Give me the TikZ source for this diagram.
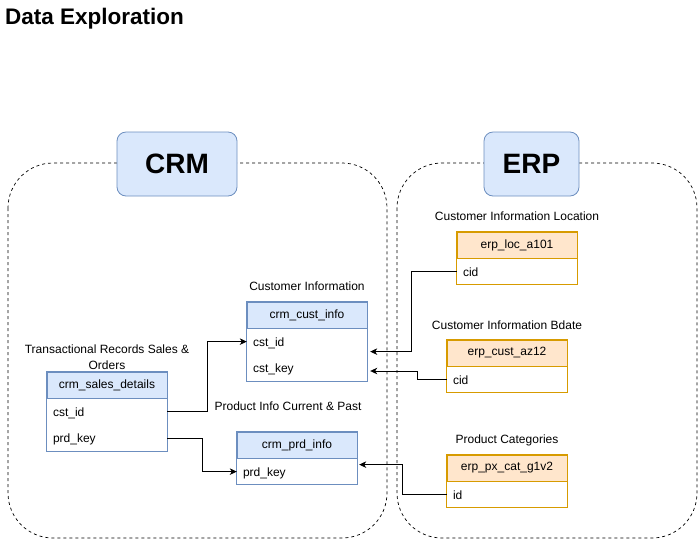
\documentclass[tikz,border=0pt]{standalone}
\usepackage{fontspec}
\setmainfont{Liberation Sans}
\usetikzlibrary{positioning,arrows.meta}
\definecolor{crmfill}{HTML}{DAE8FC}
\definecolor{crmline}{HTML}{6C8EBF}
\definecolor{erpfill}{HTML}{FFE6CC}
\definecolor{erpline}{HTML}{D79B00}

\begin{document}
\begin{tikzpicture}[x=1pt, y=-1pt, >={Stealth[length=7pt,width=6.5pt,inset=2pt]},
  group/.style={draw, line width=0.7pt, dash pattern=on 3pt off 3pt, rounded corners=45pt},
  sysbox/.style={draw=crmline, fill=crmfill, line width=0.8pt, rounded corners=9pt, minimum width=120pt, minimum height=64pt, font=\fontsize{28}{32}\selectfont\bfseries},
  crmhead/.style={draw=crmline, fill=crmfill, line width=0.8pt, minimum width=120pt, minimum height=26pt, inner sep=0pt, font=\fontsize{12}{14}\selectfont},
  erphead/.style={crmhead, draw=erpline, fill=erpfill},
  field/.style={minimum height=26pt, text width=108pt, inner xsep=6pt, inner ysep=0pt, text height=10.5pt, text depth=1.5pt, align=left, font=\fontsize{12}{14}\selectfont},
  caption/.style={inner sep=0pt, text height=9pt, text depth=2.5pt, font=\fontsize{12}{15}\selectfont},
  link/.style={->, line width=0.9pt, black}]
    \useasboundingbox (0,0) rectangle (698,542);
    \node[anchor=base west, inner sep=0pt, font=\fontsize{22.5}{26}\selectfont\bfseries] (title) at (5,24) {Data Exploration};

    % source systems
    \draw[group] (8,163) rectangle (387,538);
    \draw[group] (397,163) rectangle (697,538);
    \node[sysbox] (crm) at (177,164) {CRM};
    \node[sysbox, minimum width=95pt] (erp) at (531.5,164) {ERP};

    % crm tables
    \node[crmhead] (salesHead) at (107,385) {crm\_sales\_details};
    \node[field, below=0pt of salesHead] (salesCst) {cst\_id};
    \node[field, below=0pt of salesCst] (salesPrd) {prd\_key};
    \node[inner sep=0pt, align=center, font=\fontsize{12}{15.5}\selectfont, above=2pt of salesHead] (salesCap) {Transactional Records Sales \&\\Orders};
    \draw[crmline, line width=0.8pt] (salesHead.north west) rectangle (salesPrd.south east);

    \node[crmhead] (custHead) at (307,315) {crm\_cust\_info};
    \node[field, below=0pt of custHead] (custCst) {cst\_id};
    \node[field, below=0pt of custCst] (custKey) {cst\_key};
    \node[caption, above=8pt of custHead] (custCap) {Customer Information};
    \draw[crmline, line width=0.8pt] (custHead.north west) rectangle (custKey.south east);

    \node[crmhead] (prdHead) at (297,445) {crm\_prd\_info};
    \node[field, below=0pt of prdHead] (prdKey) {prd\_key};
    \node[caption, above=18pt of prdHead, xshift=-9pt] (prdCap) {Product Info Current \& Past};
    \draw[crmline, line width=0.8pt] (prdHead.north west) rectangle (prdKey.south east);

    % erp tables
    \node[erphead] (locHead) at (517,245) {erp\_loc\_a101};
    \node[field, below=0pt of locHead] (locCid) {cid};
    \node[caption, above=8pt of locHead] (locCap) {Customer Information Location};
    \draw[erpline, line width=0.8pt] (locHead.north west) rectangle (locCid.south east);

    \node[erphead] (azHead) at (507,353) {erp\_cust\_az12};
    \node[field, below=0pt of azHead] (azCid) {cid};
    \node[caption, above=7pt of azHead] (azCap) {Customer Information Bdate};
    \draw[erpline, line width=0.8pt] (azHead.north west) rectangle (azCid.south east);

    \node[erphead] (catHead) at (507,468) {erp\_px\_cat\_g1v2};
    \node[field, below=0pt of catHead] (catId) {id};
    \node[caption, above=8pt of catHead] (catCap) {Product Categories};
    \draw[erpline, line width=0.8pt] (catHead.north west) rectangle (catId.south east);

    % relations
    \draw[link] (salesCst.east) -- ++(40,0) |- (custCst.west);
    \draw[link] (salesPrd.east) -- ++(35,0) |- (prdKey.west);
    \draw[link] (locCid.west) -- ++(-45,0) |- ([xshift=3pt, yshift=-10pt]custCst.east);
    \draw[link] (azCid.west) -- ++(-29,0) |- ([xshift=3pt, yshift=-3pt]custKey.east);
    \draw[link] (catId.west) -- ++(-44,0) |- ([xshift=2pt, yshift=7pt]prdKey.east);
\end{tikzpicture}
\end{document}
